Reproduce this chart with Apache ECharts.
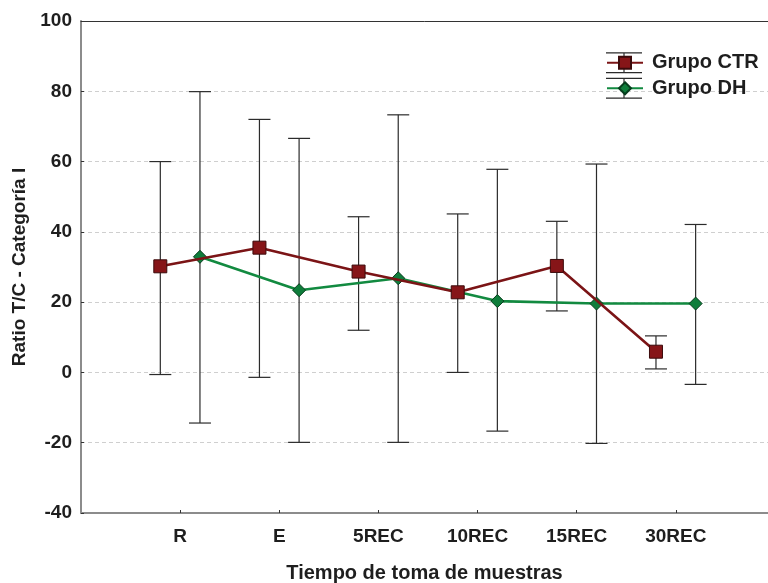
<!DOCTYPE html>
<html>
<head>
<meta charset="utf-8">
<script src="https://cdn.jsdelivr.net/npm/echarts@6/dist/echarts.min.js"></script>
<style>html,body{margin:0;padding:0;background:#fff;}#c{width:768px;height:583px;}</style>
</head>
<body>
<div id="c"></div>
<script>
var categories = ['R', 'E', '5REC', '10REC', '15REC', '30REC'];
var yTicks = [-40, -20, 0, 20, 40, 60, 80, 100];
var ctrMean  = [30.2, 35.5, 28.7, 22.8, 30.3, 5.9];
var ctrUpper = [60.0, 72.0, 44.3, 45.1, 43.0, 10.4];
var ctrLower = [-0.6, -1.4, 12.0, 0.0, 17.5, 1.0];
var dhMean   = [32.9, 23.4, 26.8, 20.3, 19.6, 19.6];
var dhUpper  = [79.9, 66.6, 73.3, 57.8, 59.3, 42.1];
var dhLower  = [-14.4, -19.9, -19.9, -16.7, -20.2, -3.4];

var CTR_OFF = -0.2, DH_OFF = 0.2;
var FONT = 'Liberation Sans, Arial, sans-serif';
var TXT = '#1e1e1e';

function pts(mean, off) { return mean.map(function (v, i) { return [i + off, v]; }); }
function bars(lo, hi, off) { return lo.map(function (v, i) { return [i + off, v, hi[i]]; }); }

function renderErr(params, api) {
  var x = api.value(0);
  var lo = api.coord([x, api.value(1)]);
  var hi = api.coord([x, api.value(2)]);
  var hw = 11;
  var st = { stroke: '#2b2b2b', lineWidth: 1.2 };
  return {
    type: 'group',
    children: [
      { type: 'line', shape: { x1: lo[0], y1: lo[1], x2: hi[0], y2: hi[1] }, style: st },
      { type: 'line', shape: { x1: hi[0] - hw, y1: hi[1], x2: hi[0] + hw, y2: hi[1] }, style: st },
      { type: 'line', shape: { x1: lo[0] - hw, y1: lo[1], x2: lo[0] + hw, y2: lo[1] }, style: st }
    ]
  };
}

var chart = echarts.init(document.getElementById('c'), null, { renderer: 'canvas' });
var tickIdx = categories.map(function (c, i) { return i; });
var legendNames = ['Grupo CTR', 'Grupo DH'];

chart.setOption({
  animation: false,
  backgroundColor: '#fff',
  grid: { left: 81, right: 0, top: 21, bottom: 70, containLabel: false, outerBoundsMode: 'none' },
  legend: [
    {
      data: legendNames,
      orient: 'vertical', left: 606, top: 51.7, padding: 0,
      itemWidth: 36, itemHeight: 21, itemGap: 3.6,
      icon: 'path://M0,0H36V1.2H0Z M17.4,0H18.6V21H17.4Z M0,19.8H36V21H0Z',
      itemStyle: { color: '#2b2b2b', borderWidth: 0 },
      textStyle: { color: 'rgba(0,0,0,0)', fontSize: 20, fontWeight: 'bold', fontFamily: FONT, lineHeight: 22, padding: [0, 0, 0, 4] },
      selectedMode: false, z: 3
    },
    {
      data: legendNames,
      orient: 'vertical', left: 606, top: 51.7, padding: 0,
      itemWidth: 36, itemHeight: 15, itemGap: 3.6,
      textStyle: { color: TXT, fontSize: 20, fontWeight: 'bold', fontFamily: FONT, lineHeight: 22, padding: [0, 0, 0, 4] },
      selectedMode: false, z: 4
    }
  ],
  xAxis: [
    {
      type: 'value', min: -1, max: 5.93, position: 'bottom',
      name: 'Tiempo de toma de muestras', nameLocation: 'middle', nameGap: 50,
      nameTextStyle: { color: TXT, fontSize: 20, fontWeight: 'bold', fontFamily: FONT },
      axisLine: { show: true, onZero: false, lineStyle: { color: '#8c8c8c', width: 2 } },
      axisTick: { show: true, inside: true, length: 3, customValues: tickIdx, lineStyle: { color: '#333' } },
      axisLabel: {
        show: true, margin: 14, customValues: tickIdx,
        color: TXT, fontSize: 19, fontWeight: 'bold', fontFamily: FONT,
        formatter: function (v) { return categories[Math.round(v)] || ''; }
      },
      splitLine: { show: false }
    },
    {
      type: 'value', min: -1, max: 5.93, position: 'top',
      axisLine: { show: true, onZero: false, lineStyle: { color: '#333', width: 1 } },
      axisTick: { show: false }, axisLabel: { show: false }, splitLine: { show: false }
    }
  ],
  yAxis: {
    type: 'value', min: yTicks[0], max: yTicks[yTicks.length - 1], interval: 20,
    name: 'Ratio T/C - Categoría I', nameLocation: 'middle', nameGap: 52,
    nameTextStyle: { color: TXT, fontSize: 19, fontWeight: 'bold', fontFamily: FONT },
    axisLine: { show: true, onZero: false, lineStyle: { color: '#8c8c8c', width: 2 } },
    axisTick: { show: true, inside: true, length: 3, lineStyle: { color: '#333' } },
    axisLabel: { margin: 9, color: TXT, fontSize: 19, fontWeight: 'bold', fontFamily: FONT },
    splitLine: { show: true, lineStyle: { color: '#cfcfcf', type: [4, 3], width: 1 } }
  },
  series: [
    {
      type: 'custom', name: 'errCTR', renderItem: renderErr, z: 1,
      data: bars(ctrLower, ctrUpper, CTR_OFF), encode: { x: 0, y: [1, 2] }, silent: true
    },
    {
      type: 'custom', name: 'errDH', renderItem: renderErr, z: 1,
      data: bars(dhLower, dhUpper, DH_OFF), encode: { x: 0, y: [1, 2] }, silent: true
    },
    {
      type: 'line', name: 'Grupo CTR', z: 3,
      data: pts(ctrMean, CTR_OFF),
      symbol: 'rect', symbolSize: 13,
      lineStyle: { color: '#7b1416', width: 2.6 },
      itemStyle: { color: '#861518', borderColor: '#3b0a0b', borderWidth: 1 }
    },
    {
      type: 'line', name: 'Grupo DH', z: 2,
      data: pts(dhMean, DH_OFF),
      symbol: 'diamond', symbolSize: 13,
      lineStyle: { color: '#128a40', width: 2.6 },
      itemStyle: { color: '#0f7d3b', borderColor: '#073d1d', borderWidth: 1 }
    }
  ]
});
</script>
</body>
</html>
